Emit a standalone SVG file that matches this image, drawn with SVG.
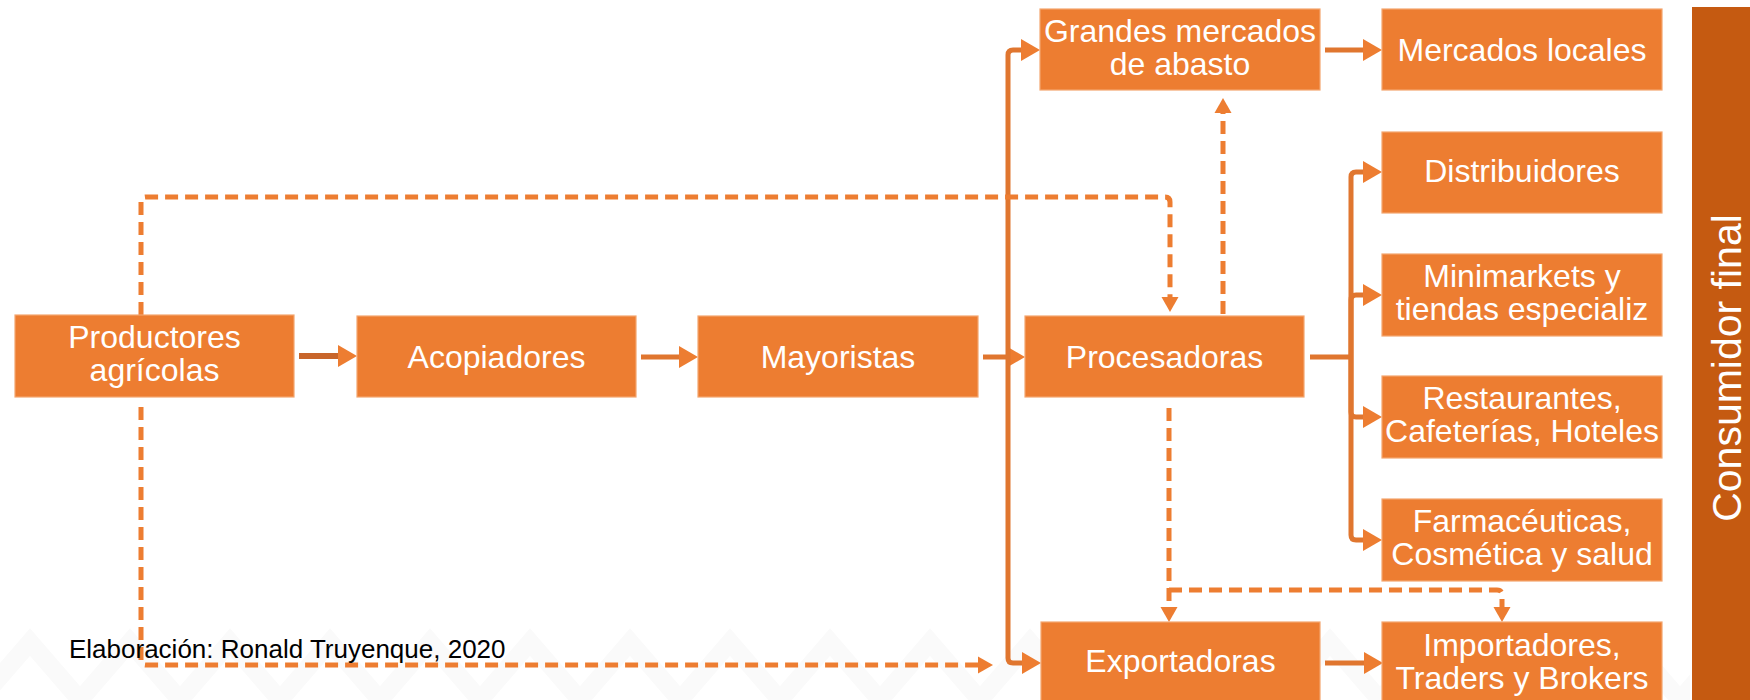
<svg xmlns="http://www.w3.org/2000/svg" width="1750" height="700" viewBox="0 0 1750 700">
<style>
.box{fill:#ED7D31;stroke:#F3A66F;stroke-width:1.2}
.t{font-family:"Liberation Sans",Arial,sans-serif;font-size:32px;fill:#FFFFFF;text-anchor:middle}
.ln{fill:none;stroke:#E0762F;stroke-width:5;stroke-linejoin:round}
.dk{stroke:#C8652A;stroke-width:6}
.ds{fill:none;stroke:#ED7D31;stroke-width:5;stroke-dasharray:13 7;stroke-linejoin:round}
.wm{fill:none;stroke:#FAFAFA;stroke-width:18}
</style>
<defs>
<marker id="ah" markerUnits="userSpaceOnUse" markerWidth="20" markerHeight="22" refX="0" refY="11" orient="auto" overflow="visible">
<path d="M0,0 L19,11 L0,22 Z" fill="#ED7D31"/>
</marker>
<marker id="ad" markerUnits="userSpaceOnUse" markerWidth="16" markerHeight="17" refX="0" refY="8.5" orient="auto" overflow="visible">
<path d="M0,0 L15,8.5 L0,17 Z" fill="#ED7D31"/>
</marker>
<pattern id="wmp" patternUnits="userSpaceOnUse" x="0" y="620" width="100" height="80">
<path class="wm" d="M-20,80 L30,22 L80,80 M80,80 L130,22"/>
</pattern>
</defs>
<rect x="0" y="0" width="1750" height="700" fill="#FFFFFF"/>
<rect x="0" y="625" width="1690" height="75" fill="url(#wmp)"/>

<g id="connectors">
<path class="ln dk" d="M299,356 H338" marker-end="url(#ah)"/>
<path class="ln" d="M641,357 H679" marker-end="url(#ah)"/>
<path class="ln" d="M983,357 H1006" marker-end="url(#ah)"/>
<path class="ln" d="M1008,357 V55 Q1008,50 1013,50 H1021" marker-end="url(#ah)"/>
<path class="ln" d="M1008,357 V658 Q1008,663 1013,663 H1022" marker-end="url(#ah)"/>
<path class="ln" d="M1325,50 H1363" marker-end="url(#ah)"/>
<path class="ln" d="M1310,357 H1351"/>
<path class="ln" d="M1351,357 V177 Q1351,172 1356,172 H1363" marker-end="url(#ah)"/>
<path class="ln" d="M1351,357 V300 Q1351,295 1356,295 H1363" marker-end="url(#ah)"/>
<path class="ln" d="M1351,357 V412 Q1351,417 1356,417 H1363" marker-end="url(#ah)"/>
<path class="ln" d="M1351,357 V535 Q1351,540 1356,540 H1363" marker-end="url(#ah)"/>
<path class="ln" d="M1325,663 H1364" marker-end="url(#ah)"/>
<path class="ds" d="M141,315 V202 Q141,197 146,197 H1165 Q1170,197 1170,202 V297" marker-end="url(#ad)"/>
<path class="ds" d="M1223,314 V113" marker-end="url(#ad)"/>
<path class="ds" d="M141,407 V660 Q141,665 146,665 H978" marker-end="url(#ad)"/>
<path class="ds" d="M1169,408 V607" marker-end="url(#ad)"/>
<path class="ds" d="M1169,590 H1497 Q1502,590 1502,595 V607" marker-end="url(#ad)"/>
</g>

<g id="productores"><rect class="box" x="15" y="315" width="279" height="82"/><text class="t" x="154.5" y="348">Productores</text><text class="t" x="154.5" y="381">agrícolas</text></g>
<g id="acopiadores"><rect class="box" x="357" y="316" width="279" height="81"/><text class="t" x="496.5" y="368">Acopiadores</text></g>
<g id="mayoristas"><rect class="box" x="698" y="316" width="280" height="81"/><text class="t" x="838" y="368">Mayoristas</text></g>
<g id="procesadoras"><rect class="box" x="1025" y="316" width="279" height="81"/><text class="t" x="1164.5" y="368">Procesadoras</text></g>
<g id="grandes"><rect class="box" x="1040" y="9" width="280" height="81"/><text class="t" x="1180" y="42">Grandes mercados</text><text class="t" x="1180" y="75">de abasto</text></g>
<g id="exportadoras"><rect class="box" x="1041" y="622" width="279" height="80"/><text class="t" x="1180.5" y="672">Exportadoras</text></g>
<g id="mercados-locales"><rect class="box" x="1382" y="9" width="280" height="81"/><text class="t" x="1522" y="61">Mercados locales</text></g>
<g id="distribuidores"><rect class="box" x="1382" y="132" width="280" height="81"/><text class="t" x="1522" y="182">Distribuidores</text></g>
<g id="minimarkets"><rect class="box" x="1382" y="254" width="280" height="82"/><text class="t" x="1522" y="287">Minimarkets y</text><text class="t" x="1522" y="320">tiendas especializ</text></g>
<g id="restaurantes"><rect class="box" x="1382" y="376" width="280" height="82"/><text class="t" x="1522" y="409">Restaurantes,</text><text class="t" x="1522" y="442">Cafeterías, Hoteles</text></g>
<g id="farmaceuticas"><rect class="box" x="1382" y="499" width="280" height="82"/><text class="t" x="1522" y="532">Farmacéuticas,</text><text class="t" x="1522" y="565">Cosmética y salud</text></g>
<g id="importadores"><rect class="box" x="1382" y="622" width="280" height="80"/><text class="t" x="1522" y="656">Importadores,</text><text class="t" x="1522" y="689">Traders y Brokers</text></g>
<g id="consumidor-final"><rect x="1692" y="7" width="58" height="693" fill="#C55A11"/><text class="t" x="0" y="0" style="font-size:41px" transform="translate(1741,368) rotate(-90)">Consumidor final</text></g>

<text x="69" y="658" style="font-family:'Liberation Sans',Arial,sans-serif;font-size:26px;fill:#000000">Elaboración: Ronald Truyenque, 2020</text>
</svg>
